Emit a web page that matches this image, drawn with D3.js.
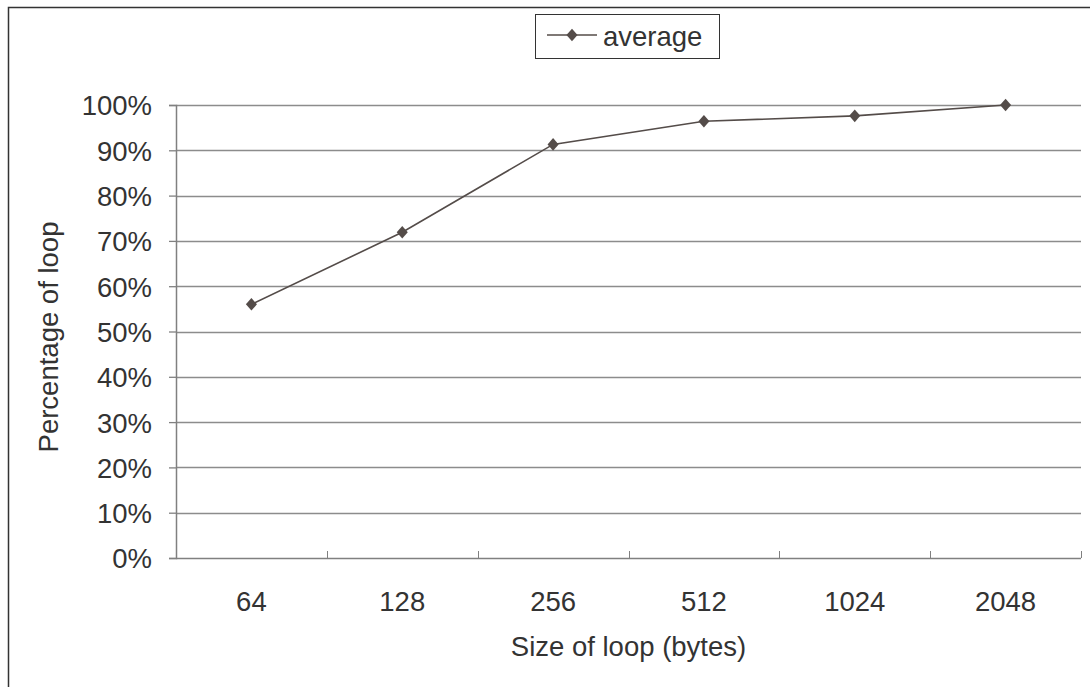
<!DOCTYPE html>
<html>
<head>
<meta charset="utf-8">
<script src="https://cdn.jsdelivr.net/npm/d3@7/dist/d3.min.js"></script>
<style>
  html, body { margin: 0; padding: 0; background: #fff; }
  svg { display: block; }
  text { font-family: "Liberation Sans", Arial, sans-serif; fill: #333; }
</style>
</head>
<body>
<script>
// Loop size categories and the share of loops that fit within each size
const sizes = ["64", "128", "256", "512", "1024", "2048"];
const average = [56.0, 71.9, 91.3, 96.4, 97.6, 100.0];
const yTicks = [0, 10, 20, 30, 40, 50, 60, 70, 80, 90, 100];

const W = 1090, H = 687;
const m = { left: 176, right: 9, top: 105, bottom: 129 };
const FS = 27.5;

const svg = d3.select("body").append("svg").attr("width", W).attr("height", H);

// outer frame
svg.append("rect")
  .attr("x", 8.5).attr("y", 7.5)
  .attr("width", W + 10).attr("height", H + 10)
  .attr("fill", "none").attr("stroke", "#333").attr("stroke-width", 1.5);

const x = d3.scaleBand().domain(sizes).range([m.left, W - m.right]);
const y = d3.scaleLinear().domain([0, 100]).range([H - m.bottom, m.top]);

// horizontal gridlines
svg.append("g").selectAll("line").data(yTicks.filter(d => d > 0)).join("line")
  .attr("x1", m.left).attr("x2", W - m.right)
  .attr("y1", d => Math.round(y(d)) + 0.5).attr("y2", d => Math.round(y(d)) + 0.5)
  .attr("stroke", "#8c8c8c").attr("stroke-width", 1.3);

// y axis
const yAxis = svg.append("g")
  .attr("transform", `translate(${m.left},0)`)
  .call(d3.axisLeft(y).tickValues(yTicks).tickSize(7).tickPadding(17).tickFormat(d => d + "%"));
yAxis.select(".domain").attr("stroke", "#808080").attr("stroke-width", 1.5);
yAxis.selectAll(".tick line").attr("stroke", "#808080").attr("stroke-width", 1.3);
yAxis.selectAll(".tick text")
  .style("font-family", '"Liberation Sans", Arial, sans-serif')
  .attr("font-size", FS).attr("fill", "#333").attr("dy", "0.36em");

// x axis with ticks on category boundaries
const xAxis = svg.append("g").attr("transform", `translate(0,${H - m.bottom})`);
xAxis.append("line")
  .attr("x1", m.left).attr("x2", W - m.right).attr("y1", 0.5).attr("y2", 0.5)
  .attr("stroke", "#808080").attr("stroke-width", 1.5);
xAxis.selectAll("line.b").data(sizes).join("line").attr("class", "b")
  .attr("x1", d => Math.round(x(d) + x.bandwidth()) + 0.5)
  .attr("x2", d => Math.round(x(d) + x.bandwidth()) + 0.5)
  .attr("y1", -7).attr("y2", 0)
  .attr("stroke", "#808080").attr("stroke-width", 1);
xAxis.selectAll("text").data(sizes).join("text")
  .attr("x", d => x(d) + x.bandwidth() / 2)
  .attr("y", 53)
  .attr("text-anchor", "middle")
  .attr("font-size", FS)
  .text(d => d);

// axis titles
svg.append("text")
  .attr("x", (m.left + W - m.right) / 2).attr("y", 656)
  .attr("text-anchor", "middle").attr("font-size", FS)
  .text("Size of loop (bytes)");
svg.append("text")
  .attr("transform", `translate(58,337) rotate(-90)`)
  .attr("text-anchor", "middle").attr("font-size", FS)
  .text("Percentage of loop");

// series line and diamond markers
const lineColor = "#544c49";
const cx = d => x(d) + x.bandwidth() / 2;
const pts = sizes.map((s, i) => [cx(s), y(average[i])]);
svg.append("path")
  .attr("d", d3.line()(pts))
  .attr("fill", "none").attr("stroke", lineColor).attr("stroke-width", 1.6);

const diamond = s => `M0,${-s}L${s * 0.88},0L0,${s}L${-s * 0.88},0Z`;
svg.append("g").selectAll("path").data(pts).join("path")
  .attr("transform", d => `translate(${d[0]},${d[1]})`)
  .attr("d", diamond(6.3))
  .attr("fill", lineColor);

// legend
const lg = svg.append("g");
lg.append("rect")
  .attr("x", 535.5).attr("y", 14.5).attr("width", 184).attr("height", 44)
  .attr("fill", "#fff").attr("stroke", "#333").attr("stroke-width", 1);
lg.append("line")
  .attr("x1", 547).attr("x2", 597).attr("y1", 35).attr("y2", 35)
  .attr("stroke", lineColor).attr("stroke-width", 1.6);
lg.append("path")
  .attr("transform", "translate(572,35)")
  .attr("d", diamond(6.3)).attr("fill", lineColor);
lg.append("text")
  .attr("x", 603).attr("y", 46).attr("font-size", FS)
  .text("average");
</script>
</body>
</html>
